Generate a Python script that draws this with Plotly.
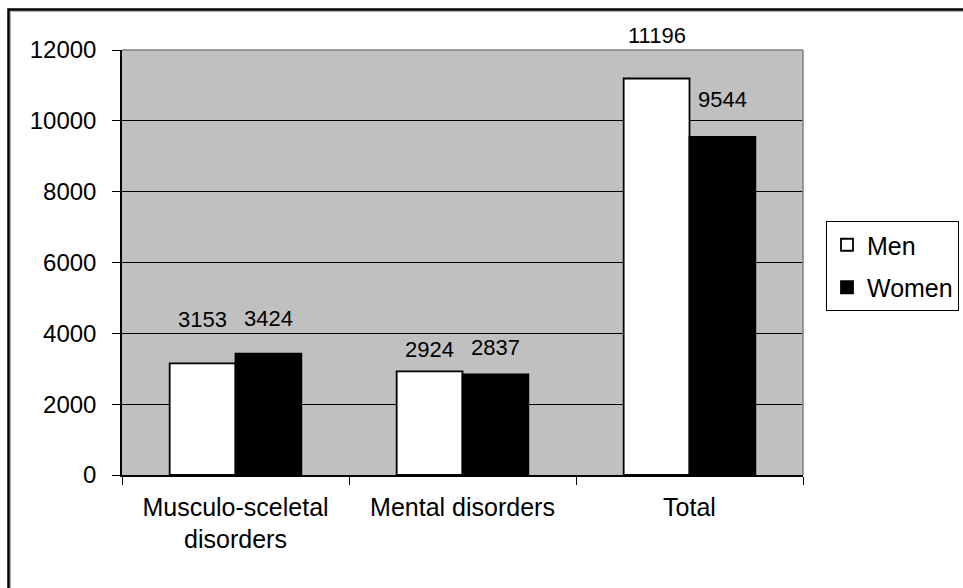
import plotly.graph_objects as go

# Chart data
categories = ["Musculo-sceletal<br>disorders", "Mental disorders", "Total"]
men = [3153, 2924, 11196]
women = [3424, 2837, 9544]
y_ticks = [0, 2000, 4000, 6000, 8000, 10000, 12000]

# How far (px) each value label sits above the top of its bar
men_lift = [44, 22, 43]
women_lift = [35, 27, 37]

W, H = 963, 588
L, R, T, B = 122, 160, 50, 113
plot_w = W - L - R
plot_h = H - T - B
BARGAP = 0.42
FONT = "Liberation Sans, Arial, sans-serif"


def px_x(px):
    return (px - L) / plot_w


def px_y(py):
    return (H - B - py) / plot_h


fig = go.Figure()
fig.add_trace(go.Bar(
    name="Men", x=categories, y=men, legendgroup="men",
    marker=dict(color="white", line=dict(color="black", width=1.8)),
))
fig.add_trace(go.Bar(
    name="Women", x=categories, y=women, legendgroup="women",
    marker=dict(color="black", line=dict(color="black", width=1.8)),
))

# value labels centred over each bar
half = (1 - BARGAP) / 4
annotations = []
for i in range(len(categories)):
    for val, lift, dx in ((men[i], men_lift[i], -half), (women[i], women_lift[i], half)):
        annotations.append(dict(
            x=i + dx, y=val, xref="x", yref="y", text=str(val),
            showarrow=False, yshift=lift, yanchor="middle", xanchor="center",
            font=dict(family=FONT, size=22, color="black"),
        ))

shapes = [
    # grey frame on the top and right of the plot area
    dict(type="line", xref="paper", yref="paper", x0=0, x1=1, y0=1, y1=1,
         line=dict(color="#808080", width=1.5), layer="above"),
    dict(type="line", xref="paper", yref="paper", x0=1, x1=1, y0=0, y1=1,
         line=dict(color="#808080", width=1.5), layer="above"),
    # outer chart border
    dict(type="rect", xref="paper", yref="paper",
         x0=px_x(10.5), x1=px_x(1000), y0=px_y(11.5), y1=px_y(650),
         line=dict(color="#A8A8A8", width=1), layer="above"),
    dict(type="rect", xref="paper", yref="paper",
         x0=px_x(8.5), x1=px_x(1000), y0=px_y(9.5), y1=px_y(650),
         line=dict(color="black", width=2.5), layer="above"),
]

fig.update_layout(
    width=W, height=H,
    margin=dict(l=L, r=R, t=T, b=B, pad=0, autoexpand=False),
    paper_bgcolor="white", plot_bgcolor="#C0C0C0",
    barmode="group", bargap=BARGAP, bargroupgap=0,
    font=dict(family=FONT, size=24, color="black"),
    showlegend=True,
    legend=dict(
        x=px_x(826), y=px_y(221), xanchor="left", yanchor="top",
        bgcolor="white", bordercolor="black", borderwidth=1,
        font=dict(family=FONT, size=25, color="black"),
        itemwidth=30, tracegroupgap=7, traceorder="grouped",
    ),
    annotations=annotations,
    shapes=shapes,
)
fig.update_xaxes(
    type="category", tickson="boundaries", ticks="outside", ticklen=8,
    tickcolor="black", showline=True, linecolor="black", linewidth=1.5,
    showgrid=False, tickfont=dict(family=FONT, size=25, color="black"),
    ticklabelstandoff=9, fixedrange=True,
)
fig.update_yaxes(
    range=[0, 12000], tickvals=y_ticks, ticktext=[str(v) for v in y_ticks],
    ticks="outside", ticklen=8, tickcolor="black",
    showline=True, linecolor="black", linewidth=1.5,
    showgrid=True, gridcolor="black", gridwidth=1, zeroline=False,
    tickfont=dict(family=FONT, size=24, color="black"),
    ticklabelstandoff=11, fixedrange=True,
)

fig.write_html("out.html")
